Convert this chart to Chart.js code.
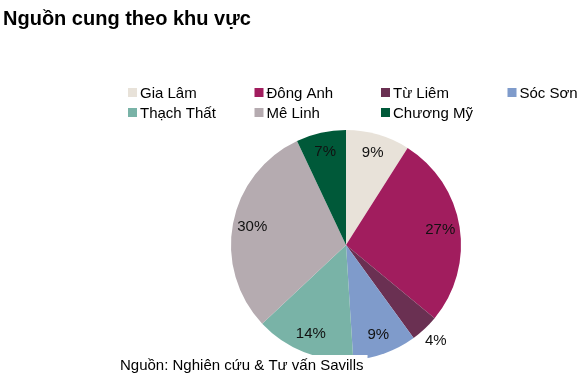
<!DOCTYPE html>
<html>
<head>
<meta charset="utf-8">
<script src="https://cdn.jsdelivr.net/npm/chart.js@4"></script>
<style>
  html, body { margin: 0; padding: 0; background: #fff; }
  #wrap { position: relative; width: 583px; height: 392px; }
</style>
</head>
<body>
<div id="wrap"><canvas id="chart" width="583" height="392"></canvas></div>
<script>
const titleText = 'Nguồn cung theo khu vực';
const sourceText = 'Nguồn: Nghiên cứu & Tư vấn Savills';
const regions = ['Gia Lâm', 'Đông Anh', 'Từ Liêm', 'Sóc Sơn', 'Thạch Thất', 'Mê Linh', 'Chương Mỹ'];
const shares = [9, 27, 4, 9, 14, 30, 7];
const colors = ['#E8E2D9', '#A11D5E', '#6A3052', '#7F9BCB', '#79B3A7', '#B5ABB0', '#005939'];

const FONT = "'Liberation Sans', Arial, sans-serif";

// draws title, legend grid, slice labels and source note
const decorations = {
  id: 'decorations',
  afterDraw(chart) {
    const ctx = chart.ctx;
    ctx.save();

    ctx.fillStyle = '#000';
    ctx.font = 'bold 20px ' + FONT;
    ctx.textBaseline = 'alphabetic';
    ctx.textAlign = 'left';
    ctx.fillText(titleText, 3, 25);

    // legend: 4 columns, 2 rows
    ctx.font = '15px ' + FONT;
    regions.forEach((name, i) => {
      const col = i % 4, row = Math.floor(i / 4);
      const x = 128 + col * 126.5;
      const y = 87 + row * 20;
      ctx.fillStyle = colors[i];
      ctx.fillRect(x, y + 1, 9, 9);
      ctx.fillStyle = '#000';
      ctx.fillText(name, x + 12, y + 11);
    });

    // percentage labels
    const meta = chart.getDatasetMeta(0);
    ctx.font = '15px ' + FONT;
    ctx.textAlign = 'center';
    ctx.textBaseline = 'middle';
    meta.data.forEach((arc, i) => {
      const mid = (arc.startAngle + arc.endAngle) / 2;
      const r = shares[i] < 5 ? arc.outerRadius * 1.14 : arc.outerRadius * 0.83;
      const x = arc.x + Math.cos(mid) * r;
      const y = arc.y + Math.sin(mid) * r;
      ctx.fillStyle = '#111';
      ctx.fillText(shares[i] + '%', x, y);
    });

    // source note sits on a white box over the pie bottom
    ctx.textAlign = 'left';
    ctx.textBaseline = 'alphabetic';
    const w = ctx.measureText(sourceText).width;
    ctx.fillStyle = '#fff';
    ctx.fillRect(116, 355, w + 8, 22);
    ctx.fillStyle = '#000';
    ctx.fillText(sourceText, 120, 370);

    ctx.restore();
  }
};

new Chart(document.getElementById('chart'), {
  type: 'pie',
  data: {
    labels: regions,
    datasets: [{
      data: shares,
      backgroundColor: colors,
      borderWidth: 0
    }]
  },
  options: {
    responsive: false,
    animation: false,
    layout: { padding: { left: 231, right: 122, top: 130, bottom: 32 } },
    plugins: {
      legend: { display: false },
      tooltip: { enabled: false }
    }
  },
  plugins: [decorations]
});
</script>
</body>
</html>
